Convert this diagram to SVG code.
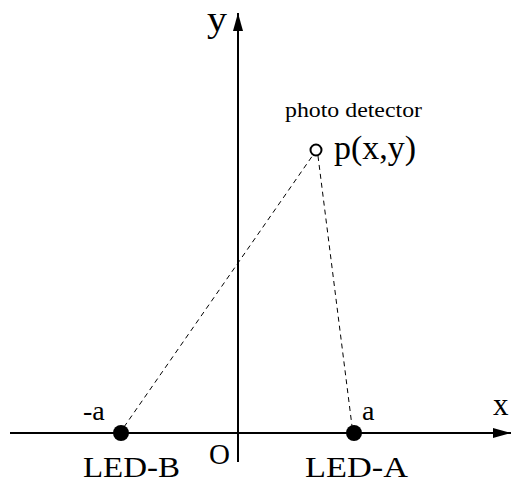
<svg xmlns="http://www.w3.org/2000/svg" width="512" height="485" viewBox="0 0 512 485">
<style>
text{font-family:"Liberation Serif","Times New Roman",serif;fill:#000}
.axis{stroke:#000;stroke-width:2;fill:none}
.dash{stroke:#000;stroke-width:1;stroke-dasharray:5,4;fill:none}
</style>
<defs>
<marker id="ah" viewBox="0 0 18 10" refX="18" refY="5" markerWidth="18" markerHeight="10" markerUnits="userSpaceOnUse" orient="auto">
<path d="M0,0 L18,5 L0,10 Z" fill="#000"/>
</marker>
</defs>
<rect width="512" height="485" fill="#fff"/>
<g id="connectors">
<line class="axis" x1="10" y1="433" x2="511" y2="433" marker-end="url(#ah)"/>
<line class="axis" x1="238" y1="462" x2="238" y2="13" marker-end="url(#ah)"/>
<line class="dash" x1="124" y1="427" x2="313" y2="155"/>
<line class="dash" x1="318" y1="156" x2="352" y2="426"/>
</g>
<g id="axis-labels">
<text x="207" y="31" font-size="36" textLength="20" lengthAdjust="spacingAndGlyphs">y</text>
<text x="493" y="415" font-size="31">x</text>
<text x="209" y="464" font-size="29">O</text>
</g>
<g id="detector">
<circle cx="316" cy="150" r="5.5" fill="none" stroke="#000" stroke-width="2"/>
<text x="285" y="117" font-size="22" textLength="137" lengthAdjust="spacingAndGlyphs">photo detector</text>
<text x="334" y="159" font-size="33" textLength="82" lengthAdjust="spacingAndGlyphs">p(x,y)</text>
</g>
<g id="led-b">
<circle cx="121" cy="433" r="8" fill="#000"/>
<text x="83" y="420" font-size="28">-a</text>
<text x="83" y="477" font-size="30" textLength="97" lengthAdjust="spacingAndGlyphs">LED-B</text>
</g>
<g id="led-a">
<circle cx="354" cy="433" r="8" fill="#000"/>
<text x="362" y="420" font-size="28">a</text>
<text x="305" y="477" font-size="30" textLength="103" lengthAdjust="spacingAndGlyphs">LED-A</text>
</g>
</svg>
